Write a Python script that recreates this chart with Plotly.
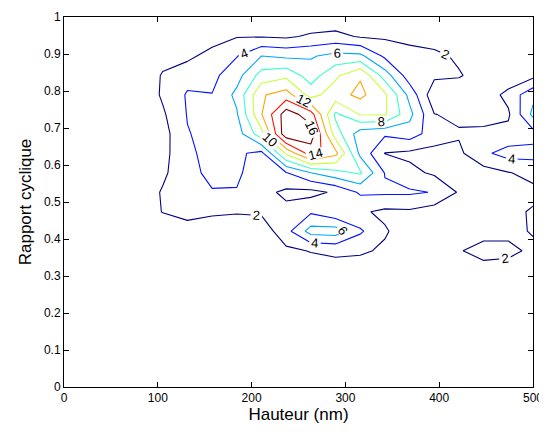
import plotly.graph_objects as go

# grid: 20 x 20 samples (Hauteur 0..500 nm, Rapport cyclique 0..1)
hauteur_nm = [0.0, 26.32, 52.63, 78.95, 105.26, 131.58, 157.89, 184.21, 210.53, 236.84,
              263.16, 289.47, 315.79, 342.11, 368.42, 394.74, 421.05, 447.37, 473.68, 500.0]
rapport = [0.0, 0.0526, 0.1053, 0.1579, 0.2105, 0.2632, 0.3158, 0.3684, 0.4211, 0.4737,
           0.5263, 0.5789, 0.6316, 0.6842, 0.7368, 0.7895, 0.8421, 0.8947, 0.9474, 1.0]

# one row per rapport value (bottom to top), values estimated from the figure
row00 = [0] * 20
row01 = [0] * 20
row02 = [0] * 20
row03 = [0] * 20
row04 = [0] * 20
row05 = [0] * 20
row06 = [0, 0, 0, 0, 0, 0, 0, 0, 0, 0.5, 1.0, 1.2, 1.0, 0.3, 0, 0, 0.5, 1.5, 1.2, 0.5]
row07 = [0, 0, 0, 0, 0, 0, 0.2, 0.3, 0.5, 1.6, 2.1, 2.4, 2.3, 1.7, 0.4, 0.3, 1.9, 2.5, 2.5, 1.6]
row08 = [0, 0, 0, 0, 0.3, 0.5, 0.6, 0.5, 0.8, 3.3, 6.8, 7.0, 4.3, 2.2, 1.0, 0.5, 0.8, 1.5, 1.5, 2.15]
row09 = [0, 0, 0, 0.3, 2.1, 3.2, 2.4, 2.2, 2.3, 2.5, 3.7, 2.4, 2.3, 1.6, 1.7, 1.0, 1.2, 1.3, 1.5, 2.2]
row10 = [0, 0, 0, 0.6, 2.2, 3.0, 3.9, 3.9, 2.6, 1.6, 1.4, 2.3, 4.3, 4.3, 4.3, 3.9, 1.8, 1.2, 1.3, 1.5]
row11 = [0, 0, 0, 0.4, 1.6, 3.5, 4.4, 4.3, 3.0, 3.9, 6.0, 7.3, 8.3, 3.9, 2.5, 1.7, 1.4, 1.2, 1.9, 2.6]
row12 = [0, 0, 0, 0.3, 1.3, 3.7, 4.5, 4.4, 3.4, 10.3, 15.0, 12.6, 5.5, 1.95, 1.6, 1.4, 1.6, 3.6, 4.8, 4.7]
row13 = [0, 0, 0, 0.2, 1.2, 3.9, 4.6, 5.0, 9.3, 17.5, 17.1, 9.0, 4.9, 4.3, 5.0, 3.0, 2.2, 2.3, 2.6, 3.2]
row14 = [0, 0, 0, 0.1, 1.7, 4.1, 4.8, 5.8, 11.9, 17.1, 14.9, 7.6, 10.1, 10.2, 6.6, 2.05, 1.6, 1.5, 1.7, 6.5]
row15 = [0, 0, 0, 0.2, 2.3, 4.2, 4.05, 6.5, 11.8, 12.9, 9.2, 11.2, 12.5, 10.4, 5.4, 0.6, 0.5, 0.8, 2.6, 5.5]
row16 = [0, 0, 0, 0.2, 2.2, 3.3, 3.5, 5.2, 8.8, 9.5, 7.0, 9.6, 11.8, 7.0, 2.9, 2.4, 2.2, 1.0, 0.6, 1.4]
row17 = [0, 0, 0, 0, 1.2, 1.5, 2.8, 3.9, 6.0, 5.6, 5.8, 6.6, 6.5, 3.6, 3.0, 2.6, 1.6, 0.5, 0.2, 0.3]
row18 = [0, 0, 0, 0, 0, 0.5, 1.0, 1.9, 1.9, 1.7, 2.3, 2.6, 1.8, 1.7, 1.2, 0.8, 0.3, 0, 0, 0]
row19 = [0, 0, 0, 0, 0, 0, 0, 0, 0, 0.3, 0.5, 0.5, 0.3, 0, 0, 0, 0, 0, 0, 0]

z = [row00, row01, row02, row03, row04, row05, row06, row07, row08, row09,
     row10, row11, row12, row13, row14, row15, row16, row17, row18, row19]

x_ticks = [0, 100, 200, 300, 400, 500]
y_ticks = [0, 0.1, 0.2, 0.3, 0.4, 0.5, 0.6, 0.7, 0.8, 0.9, 1]
y_tick_text = ["0", "0.1", "0.2", "0.3", "0.4", "0.5", "0.6", "0.7", "0.8", "0.9", "1"]

jet = [[0.0, "rgb(0,0,128)"], [0.125, "rgb(0,0,255)"], [0.375, "rgb(0,255,255)"],
       [0.625, "rgb(255,255,0)"], [0.875, "rgb(255,0,0)"], [1.0, "rgb(128,0,0)"]]

FONT = "Liberation Sans, Arial, sans-serif"

fig = go.Figure(go.Contour(
    x=hauteur_nm, y=rapport, z=z,
    zmin=2, zmax=16,
    colorscale=jet, showscale=False,
    contours=dict(start=2, end=16, size=2, coloring="lines",
                  showlabels=True,
                  labelfont=dict(size=13, color="black", family=FONT)),
    line=dict(width=1.1, smoothing=0),
    hoverinfo="skip",
))

axis_common = dict(showline=True, linecolor="black", linewidth=1, mirror="allticks",
                   ticks="inside", ticklen=5, tickcolor="black", showgrid=False,
                   zeroline=False, automargin=False,
                   tickfont=dict(size=12, color="black", family=FONT))
fig.update_xaxes(range=[0, 500], tickvals=x_ticks,
                 title=dict(text="Hauteur (nm)", standoff=0,
                            font=dict(size=17, color="black", family=FONT)),
                 **axis_common)
fig.update_yaxes(range=[0, 1], tickvals=y_ticks, ticktext=y_tick_text,
                 title=dict(text="Rapport cyclique", standoff=7,
                            font=dict(size=17, color="black", family=FONT)),
                 **axis_common)
# the page adds an 8px body margin, so the figure is sized/offset to compensate
fig.update_layout(width=539, height=424, margin=dict(l=56, r=14, t=9, b=45),
                  plot_bgcolor="white", paper_bgcolor="white", showlegend=False)

fig.write_html("out.html")
